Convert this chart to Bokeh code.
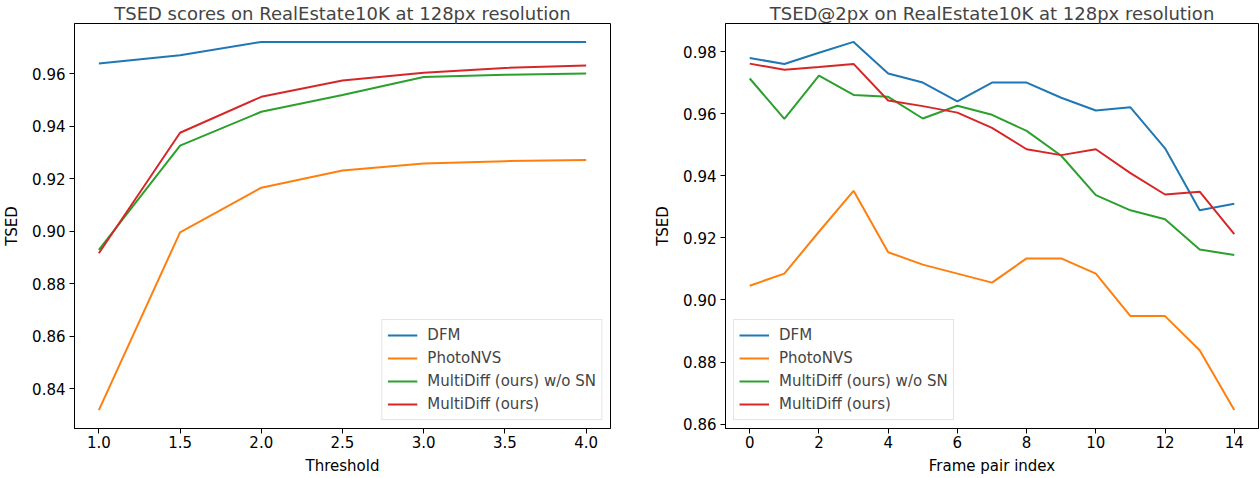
from bokeh.plotting import figure
from bokeh.layouts import row
from bokeh.models import FixedTicker, PrintfTickFormatter
from bokeh.embed import file_html
from bokeh.resources import INLINE

# ---- data ----
series_names = ["DFM", "PhotoNVS", "MultiDiff (ours) w/o SN", "MultiDiff (ours)"]
colors = ["#1f77b4", "#ff7f0e", "#2ca02c", "#d62728"]

thresholds = [1.0, 1.5, 2.0, 2.5, 3.0, 3.5, 4.0]
left_dfm = [0.9639, 0.9670, 0.9721, 0.9721, 0.9721, 0.9721, 0.9721]
left_photonvs = [0.8319, 0.8996, 0.9166, 0.9231, 0.9258, 0.9267, 0.9271]
left_wo_sn = [0.8929, 0.9326, 0.9455, 0.9519, 0.9587, 0.9596, 0.9601]
left_ours = [0.8916, 0.9375, 0.9512, 0.9574, 0.9604, 0.9622, 0.9631]

frame_idx = list(range(15))
right_dfm = [0.9780, 0.9761, 0.9797, 0.9832, 0.9730, 0.9701, 0.9640, 0.9701,
             0.9701, 0.9652, 0.9611, 0.9621, 0.9489, 0.9289, 0.9310]
right_photonvs = [0.9046, 0.9085, 0.9220, 0.9352, 0.9154, 0.9114, 0.9085, 0.9056,
                  0.9134, 0.9134, 0.9085, 0.8948, 0.8948, 0.8838, 0.8645]
right_wo_sn = [0.9714, 0.9584, 0.9723, 0.9661, 0.9655, 0.9585, 0.9626, 0.9597,
               0.9545, 0.9465, 0.9338, 0.9289, 0.9260, 0.9163, 0.9145]
right_ours = [0.9762, 0.9742, 0.9751, 0.9761, 0.9643, 0.9625, 0.9604, 0.9555,
              0.9486, 0.9467, 0.9486, 0.9409, 0.9340, 0.9349, 0.9212]

left_xticks = [1.0, 1.5, 2.0, 2.5, 3.0, 3.5, 4.0]
left_yticks = [0.84, 0.86, 0.88, 0.90, 0.92, 0.94, 0.96]
right_xticks = [0, 2, 4, 6, 8, 10, 12, 14]
right_yticks = [0.86, 0.88, 0.90, 0.92, 0.94, 0.96, 0.98]

FONT = "DejaVu Sans"


def pad_range(vals, frac=0.05):
    lo, hi = min(vals), max(vals)
    d = (hi - lo) * frac
    return (lo - d, hi + d)


def style(p, title, xlabel, ylabel, xticks, yticks, xfmt, yfmt):
    p.title.text = title
    p.title.text_font = FONT
    p.title.text_font_size = "18px"
    p.title.text_font_style = "normal"
    p.title.align = "center"
    p.title.standoff = 0
    p.grid.visible = False
    p.outline_line_color = "black"
    p.outline_line_width = 1
    p.background_fill_color = "white"
    p.border_fill_color = "white"
    for ax in (p.xaxis[0], p.yaxis[0]):
        ax.axis_line_color = "black"
        ax.major_tick_line_color = "black"
        ax.major_tick_out = 5
        ax.major_tick_in = 0
        ax.minor_tick_line_color = None
        ax.major_label_text_font = FONT
        ax.major_label_text_font_size = "15px"
        ax.major_label_text_color = "black"
        ax.axis_label_text_font = FONT
        ax.axis_label_text_font_size = "15px"
        ax.axis_label_text_font_style = "normal"
        ax.axis_label_text_color = "black"
        ax.major_label_standoff = 4
    p.xaxis[0].major_label_standoff = 2
    p.xaxis[0].axis_label = xlabel
    p.yaxis[0].axis_label = ylabel
    p.xaxis[0].axis_label_standoff = 6
    p.yaxis[0].axis_label_standoff = 8
    p.xaxis[0].ticker = FixedTicker(ticks=xticks)
    p.yaxis[0].ticker = FixedTicker(ticks=yticks)
    p.xaxis[0].formatter = PrintfTickFormatter(format=xfmt)
    p.yaxis[0].formatter = PrintfTickFormatter(format=yfmt)


def style_legend(p, loc):
    lg = p.legend[0]
    lg.location = loc
    lg.margin = 8
    lg.padding = 5
    lg.spacing = 3
    lg.label_height = 20
    lg.glyph_height = 20
    lg.glyph_width = 30
    lg.label_standoff = 10
    lg.label_text_font = FONT
    lg.label_text_font_size = "15px"
    lg.border_line_color = "#cccccc"
    lg.border_line_width = 1
    lg.background_fill_alpha = 0.8


H = 478

# ---- left ----
left_all = left_dfm + left_photonvs + left_wo_sn + left_ours
p1 = figure(width=651, height=H, x_range=pad_range(thresholds), y_range=pad_range(left_all),
            output_backend="svg", toolbar_location=None,
            min_border_left=74, min_border_right=41, min_border_top=0, min_border_bottom=50)
for name, col, ys in zip(series_names, colors, [left_dfm, left_photonvs, left_wo_sn, left_ours]):
    p1.line(thresholds, ys, color=col, line_width=2, legend_label=name)
style(p1, "TSED scores on RealEstate10K at 128px resolution", "Threshold", "TSED",
      left_xticks, left_yticks, "%.1f", "%.2f")
style_legend(p1, "bottom_right")

# ---- right ----
right_all = right_dfm + right_photonvs + right_wo_sn + right_ours
p2 = figure(width=608, height=H, x_range=pad_range(frame_idx), y_range=pad_range(right_all),
            output_backend="svg", toolbar_location=None,
            min_border_left=72, min_border_right=1, min_border_top=0, min_border_bottom=50)
for name, col, ys in zip(series_names, colors, [right_dfm, right_photonvs, right_wo_sn, right_ours]):
    p2.line(frame_idx, ys, color=col, line_width=2, legend_label=name)
style(p2, "TSED@2px on RealEstate10K at 128px resolution", "Frame pair index", "TSED",
      right_xticks, right_yticks, "%d", "%.2f")
style_legend(p2, "bottom_left")

layout = row(p1, p2)
open("out.html", "w").write(file_html(layout, INLINE))
